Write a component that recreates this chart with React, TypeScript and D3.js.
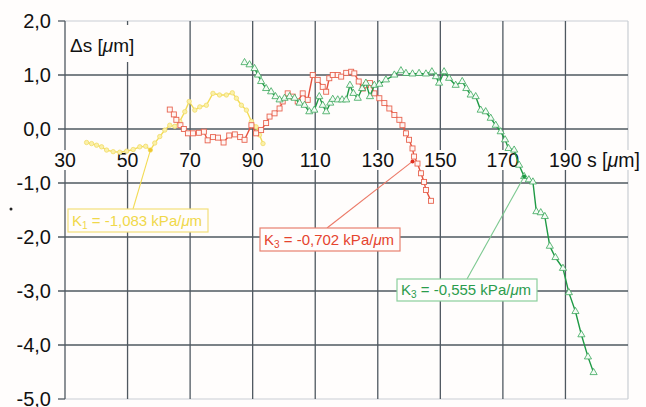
import React from 'react';
import * as d3 from 'd3';

const xTicks = [30, 50, 70, 90, 110, 130, 150, 170, 190];
const xTickLabels = ['30', '50', '70', '90', '110', '130', '150', '170', '190'];
const yTicks = [2, 1, 0, -1, -2, -3, -4, -5];
const yTickLabels = ['2,0', '1,0', '0,0', '-1,0', '-2,0', '-3,0', '-4,0', '-5,0'];

const yellowX = [36.9, 38.5, 40.1, 41.7, 43.3, 45.4, 47.5, 49.7, 51.8, 53.9, 55.8, 57.3, 58.7, 60.3, 61.9, 63.5, 65.1, 66.7, 68.3, 69.7, 71.5, 73.1, 75.2, 77.3, 79.4, 81.6, 83.5, 84.8, 86.4, 88.0, 89.6, 91.1, 92.2, 93.3];
const yellowY = [-0.25, -0.27, -0.3, -0.33, -0.39, -0.42, -0.43, -0.41, -0.38, -0.33, -0.32, -0.39, -0.26, -0.14, -0.02, 0.07, 0.05, 0.14, 0.32, 0.51, 0.35, 0.41, 0.44, 0.66, 0.63, 0.63, 0.67, 0.57, 0.44, 0.35, 0.14, 0.04, -0.11, -0.27];

const redX = [63.5, 64.8, 65.6, 66.9, 68.0, 69.3, 70.9, 72.8, 74.4, 75.6, 77.3, 78.9, 80.7, 82.5, 84.3, 86.0, 87.4, 89.6, 91.1, 92.7, 94.3, 95.4, 97.0, 98.6, 99.6, 101.2, 102.8, 104.4, 106.0, 107.6, 109.2, 110.8, 112.4, 113.5, 114.5, 115.6, 117.2, 118.3, 119.9, 121.5, 122.5, 123.9, 125.2, 126.2, 127.5, 128.9, 130.5, 132.1, 133.7, 135.3, 136.9, 137.9, 139.0, 140.0, 141.1, 141.6, 142.7, 143.8, 144.8, 145.4, 147.0];
const redY = [0.36, 0.27, 0.17, 0.07, 0.0, -0.08, -0.08, -0.07, -0.05, -0.21, -0.15, -0.16, -0.25, -0.12, -0.1, -0.15, -0.2, 0.07, -0.08, -0.02, 0.11, 0.23, 0.29, 0.38, 0.51, 0.66, 0.6, 0.51, 0.66, 0.54, 1.0, 0.91, 0.78, 0.69, 0.94, 1.0, 1.0, 0.97, 1.04, 1.06, 1.03, 0.88, 0.75, 0.81, 0.85, 0.66, 0.57, 0.48, 0.38, 0.26, 0.17, 0.07, -0.08, -0.2, -0.36, -0.51, -0.64, -0.82, -0.98, -1.13, -1.33];

const greenX = [87.4, 89.0, 90.6, 91.7, 92.7, 94.3, 95.9, 97.3, 98.6, 100.2, 101.8, 103.4, 105.0, 106.6, 108.1, 109.7, 111.3, 112.4, 113.5, 114.8, 115.6, 117.2, 118.6, 119.9, 121.1, 122.2, 123.6, 125.0, 126.2, 127.5, 128.9, 130.5, 132.6, 135.3, 137.4, 139.0, 141.1, 143.2, 145.4, 147.3, 148.6, 149.6, 151.2, 152.8, 154.9, 157.0, 158.3, 159.7, 161.3, 162.9, 164.5, 166.1, 167.7, 169.3, 170.7, 171.8, 173.6, 175.2, 176.8, 178.3, 179.6, 180.7, 182.1, 183.4, 185.0, 186.8, 189.2, 191.1, 193.2, 195.1, 197.2, 199.0];
const greenY = [1.23, 1.19, 1.12, 1.0, 0.88, 0.75, 0.69, 0.6, 0.54, 0.57, 0.6, 0.57, 0.48, 0.44, 0.32, 0.35, 0.6, 0.44, 0.32, 0.48, 0.55, 0.54, 0.54, 0.54, 0.81, 0.66, 0.57, 0.75, 0.85, 0.6, 0.81, 0.83, 0.91, 1.0, 1.08, 1.03, 1.02, 1.03, 1.02, 1.06, 0.97, 0.85, 1.06, 0.94, 0.81, 0.88, 0.75, 0.63, 0.6, 0.35, 0.32, 0.2, 0.07, -0.05, -0.2, -0.36, -0.39, -0.67, -0.88, -0.94, -0.98, -1.53, -1.55, -1.62, -2.17, -2.38, -2.58, -3.03, -3.38, -3.81, -4.22, -4.51];

const FONT = '"Liberation Sans", Arial, sans-serif';
const GRID = '#4f5860';
const BORDER = '#c9ced3';

export default function App() {
  const x = d3.scaleLinear().domain([30, 210]).range([65, 628]);
  const y = d3.scaleLinear().domain([-5, 2]).range([399, 21]);
  const line = d3.line<[number, number]>().x(d => x(d[0])).y(d => y(d[1]));
  const pts = (xs: number[], ys: number[]) => xs.map((v, i) => [v, ys[i]] as [number, number]);
  const yellow = pts(yellowX, yellowY);
  const red = pts(redX, redY);
  const green = pts(greenX, greenY);
  const tri = d3.symbol().type(d3.symbolTriangle).size(22)() as string;

  const innerY = yTicks.filter(t => t < 2 && t > -5);

  return (
    <svg width={646} height={407} style={{ position: 'absolute', left: 0, top: 0 }} fontFamily={FONT}>
      <rect x={0} y={0} width={646} height={407} fill="#fffdfc" />
      {/* borders */}
      <line x1={65} x2={628} y1={y(2)} y2={y(2)} stroke={BORDER} strokeWidth={1.2} />
      <line x1={65} x2={628} y1={y(-5)} y2={y(-5)} stroke={BORDER} strokeWidth={1.2} />
      <line x1={628} x2={628} y1={y(2)} y2={y(-5)} stroke={BORDER} strokeWidth={1.2} />
      {/* vertical grid */}
      {xTicks.map(t => (
        <line key={'vx' + t} x1={x(t)} x2={x(t)} y1={y(2)} y2={y(-5)} stroke={GRID} strokeWidth={1.3} />
      ))}
      {/* horizontal grid */}
      {innerY.map(t => (
        <line key={'hy' + t} x1={58} x2={628} y1={y(t)} y2={y(t)} stroke={GRID} strokeWidth={1.3} />
      ))}
      {[2, -5].map(t => (
        <line key={'tk' + t} x1={58} x2={65} y1={y(t)} y2={y(t)} stroke={GRID} strokeWidth={1.3} />
      ))}
      {/* y labels */}
      {yTicks.map((t, i) => (
        <text key={'yl' + t} x={51} y={y(t) + 7} textAnchor="end" fontSize={20} fill="#111">{yTickLabels[i]}</text>
      ))}
      {/* y title box */}
      <rect x={67} y={25} width={78} height={37} fill="#fffdfc" />
      <text x={70} y={52} fontSize={19} fill="#111">Δs [<tspan fontStyle="italic">μ</tspan>m]</text>
      {/* x labels */}
      {xTicks.map((t, i) => {
        const last = i === xTicks.length - 1;
        const w = xTickLabels[i].length * 11;
        return (
          <g key={'xl' + t}>
            <rect x={x(t) - w / 2 - 2} y={150} width={last ? 94 : w + 4} height={20} fill="#fffdfc" />
            <text x={last ? x(t) - w / 2 : x(t)} y={167} textAnchor={last ? 'start' : 'middle'} fontSize={19.5} fill="#111">
              {xTickLabels[i]}{last ? <tspan> s [<tspan fontStyle="italic">μ</tspan>m]</tspan> : null}
            </text>
          </g>
        );
      })}
      {/* series */}
      <path d={line(yellow) as string} fill="none" stroke="#f3dc55" strokeWidth={1.4} />
      {yellow.map((d, i) => (
        <circle key={'yc' + i} cx={x(d[0])} cy={y(d[1])} r={2.2} fill="#fbf0a8" stroke="#f1dc6a" strokeWidth={0.8} />
      ))}
      <path d={line(red) as string} fill="none" stroke="#e5503c" strokeWidth={1.4} />
      {red.map((d, i) => (
        <rect key={'rc' + i} x={x(d[0]) - 2.5} y={y(d[1]) - 2.5} width={5} height={5} fill="#fff6f4" stroke="#e86450" strokeWidth={0.9} />
      ))}
      <path d={line(green) as string} fill="none" stroke="#1f9a45" strokeWidth={1.4} />
      {green.map((d, i) => (
        <path key={'gc' + i} d={tri} transform={`translate(${x(d[0])},${y(d[1])})`} fill="#f4fbf5" stroke="#3aa75a" strokeWidth={0.8} />
      ))}
      {/* annotations */}
      <line x1={133} y1={209} x2={x(57.3)} y2={y(-0.39)} stroke="#f3dc55" strokeWidth={1.1} />
      <circle cx={x(57.3)} cy={y(-0.39)} r={2} fill="#f0c830" />
      <rect x={68} y={209} width={140} height={23} fill="#fffdfc" stroke="#f3e07a" strokeWidth={1.2} />
      <text x={72} y={226} fontSize={15} fill="#f0d84a">K<tspan fontSize={10} dy={3}>1</tspan><tspan dy={-3}> = -1,083 kPa/</tspan><tspan fontStyle="italic">μ</tspan>m</text>

      <line x1={327} y1={228} x2={x(141.1)} y2={y(-0.6)} stroke="#ec7a68" strokeWidth={1.1} />
      <circle cx={x(141.1)} cy={y(-0.6)} r={2} fill="#e03020" />
      <rect x={260} y={228} width={140} height={23} fill="#fffdfc" stroke="#e8806f" strokeWidth={1.2} />
      <text x={264} y={245} fontSize={15} fill="#e5442e">K<tspan fontSize={10} dy={3}>3</tspan><tspan dy={-3}> = -0,702 kPa/</tspan><tspan fontStyle="italic">μ</tspan>m</text>

      <line x1={467} y1={279} x2={x(176.8)} y2={y(-0.88)} stroke="#7cc890" strokeWidth={1.1} />
      <circle cx={x(176.8)} cy={y(-0.88)} r={2} fill="#1f9a45" />
      <rect x={397} y={279} width={140} height={22} fill="#fffdfc" stroke="#8acf9c" strokeWidth={1.2} />
      <text x={401} y={295} fontSize={15} fill="#2b9c4c">K<tspan fontSize={10} dy={3}>3</tspan><tspan dy={-3}> = -0,555 kPa/</tspan><tspan fontStyle="italic">μ</tspan>m</text>

      <circle cx={11} cy={209} r={1.5} fill="#222" />
    </svg>
  );
}
